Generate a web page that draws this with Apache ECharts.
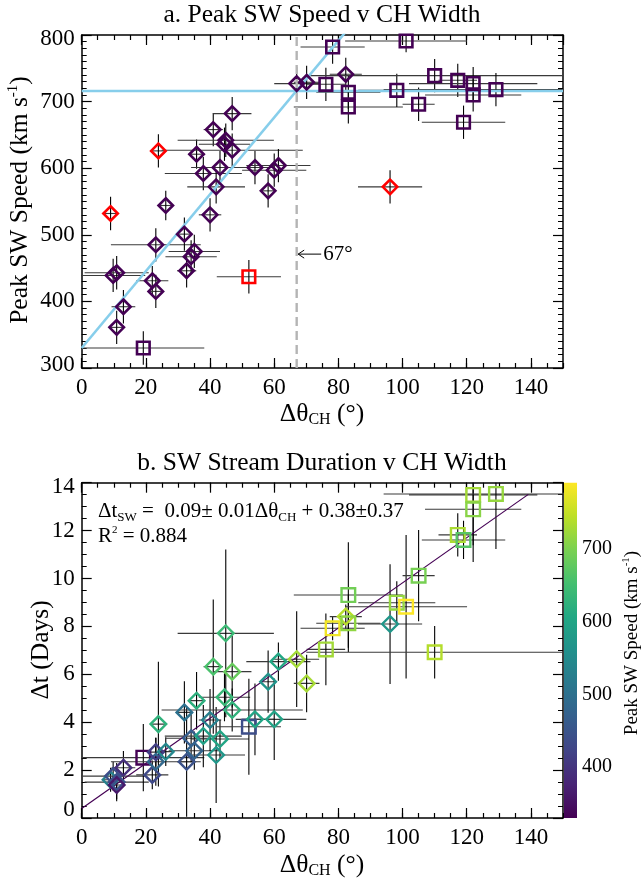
<!DOCTYPE html>
<html><head><meta charset="utf-8">
<script src="https://cdn.jsdelivr.net/npm/echarts@6/dist/echarts.min.js"></script>
<style>html,body{margin:0;padding:0;background:#fff}#c{width:643px;height:886px}</style>
</head><body><div id="c"></div>
<script>
// ---------------- data ----------------
const chWidth    = [9.0, 9.8, 10.9, 10.9, 13.0, 19.2, 22.0, 23.1, 23.1, 23.9, 26.2, 32.0, 32.7, 34.1, 35.1, 35.8, 37.9, 40.0, 41.0, 41.9, 43.1, 44.5, 44.9, 46.9, 46.9, 52.1, 54.0, 58.1, 60.0, 61.3, 67.0, 70.1, 76.1, 78.2, 82.3, 83.1, 83.1, 96.1, 98.2, 101.1, 105.0, 110.0, 117.2, 119.0, 122.0, 122.0, 129.1];
const chWidthErr = [2.5, 10, 10, 2, 3.7, 19, 5, 14, 2, 2.5, 2, 2.5, 3, 8, 8, 2.5, 12, 3.5, 3, 9, 9, 8, 15, 6, 22, 10, 6, 2.5, 10, 10, 7, 4, 6, 10, 5, 10, 17, 10, 12, 19, 5, 40, 6, 13, 20, 15, 35];
const peakSpeed  = [532, 439, 443, 361, 392, 330, 431, 485, 415, 626, 544, 501, 446, 467, 475, 621, 592, 530, 658, 572, 601, 636, 642, 682, 627, 437, 601, 566, 597, 604, 727, 729, 726, 782, 741, 714, 692, 572, 717, 791, 696, 739, 732, 669, 727, 710, 718];
const peakSpeedErr = [25, 25, 25, 25, 25, 25, 22, 25, 25, 25, 22, 25, 25, 25, 25, 22, 25, 25, 25, 25, 25, 25, 25, 25, 25, 25, 25, 25, 25, 25, 25, 25, 25, 25, 25, 25, 25, 25, 25, 17, 25, 25, 25, 25, 25, 25, 25];
const duration   = [1.6, 1.75, 1.5, 1.38, 2.10, 2.52, 1.80, 2.35, 2.75, 3.92, 2.77, 4.41, 2.35, 3.33, 2.81, 4.90, 3.42, 4.09, 6.32, 2.63, 3.30, 5.04, 7.71, 6.11, 4.51, 3.81, 4.12, 5.69, 4.12, 6.53, 6.63, 5.62, 7.04, 7.92, 8.41, 8.13, 9.31, 8.10, 8.99, 8.82, 10.12, 6.92, 11.82, 11.61, 13.49, 12.89, 13.53];
const durationErr = [0.5, 0.6, 0.8, 0.6, 0.7, 1.4, 0.6, 1.0, 0.6, 2.6, 0.6, 1.3, 2.3, 1.0, 0.8, 1.2, 1.3, 1.3, 2.8, 2.0, 0.8, 1.0, 3.5, 1.5, 0.9, 2.0, 1.5, 1.3, 1.7, 0.8, 2.0, 1.2, 1.5, 0.5, 0.5, 1.2, 2.2, 2.5, 0.9, 3.0, 1.9, 1.1, 0.9, 0.8, 2.8, 1.5, 2.3];
const markerShape = ['d','d','d','d','d','s','d','d','d','d','d','d','d','d','d','d','d','d','d','d','d','d','d','d','d','s','d','d','d','d','d','d','s','s','d','s','s','d','s','s','s','s','s','s','s','s','s'];
const outlier    = [1,0,0,0,0,0,0,0,0,1,0,0,0,0,0,0,0,0,0,0,0,0,0,0,0,1,0,0,0,0,0,0,0,0,0,0,0,1,0,0,0,0,0,0,0,0,0];
// fitted lines
const speedFit = { intercept: 330, slope: 5.77 };
const plateauSpeed = 716;
const breakWidth = 67;
const durationFit = { intercept: 0.40, slope: 0.0942, xEnd: 139.2 };
// axes
const xRange = [0, 150], speedRange = [300, 800], durRange = [0, 14];
const colorbarTicks = [400, 500, 600, 700];

// ---------------- style helpers ----------------
const F = "'Liberation Serif','Times New Roman',serif";
const viridisStops = ['#440154','#482475','#414487','#355f8d','#2a788e','#21918c','#22a884','#44bf70','#7ad151','#bddf26','#fde725'];
function hex2rgb(h){return [parseInt(h.slice(1,3),16),parseInt(h.slice(3,5),16),parseInt(h.slice(5,7),16)];}
function viridis(t){
  t=Math.max(0,Math.min(1,t)); const n=viridisStops.length-1;
  const i=Math.min(n-1,Math.floor(t*n)); const f=t*n-i;
  const a=hex2rgb(viridisStops[i]), b=hex2rgb(viridisStops[i+1]);
  return 'rgb('+a.map((v,k)=>Math.round(v+(b[k]-v)*f)).join(',')+')';
}
const cbMin = Math.min(...peakSpeed), cbMax = Math.max(...peakSpeed);

// layout
const L = 81.7, W = 481.3;
const aTop = 35, aH = 333;
const bTop = 482.7, bH = 335.3;
const cbLeft = 564, cbW = 13;
// colour-bar grid spans 300..800 so that cbMin..cbMax fills the bar
const cbPx = bH / (cbMax - cbMin);
const cbGridTop = bTop - (speedRange[1] - cbMax) * cbPx;
const cbGridH = (speedRange[1] - speedRange[0]) * cbPx;

function xAxisDef(grid, pos, major, labels){
  return {
    type:'value', gridIndex:grid, position:pos, min:xRange[0], max:xRange[1],
    interval: major ? 20 : 5,
    axisLine:{show:major, onZero:false, lineStyle:{color:'#000', width:1.5}},
    axisTick:{show:true, inside:true, length: major ? 10 : 5, lineStyle:{color:'#000', width:1.2}},
    axisLabel:{show:labels, margin:8, fontFamily:F, fontSize:23, color:'#000', showMaxLabel:false,
      formatter: v => (v % 20 === 0 && v <= 140) ? String(v) : ''},
    splitLine:{show:false}
  };
}
function yAxisDef(grid, pos, range, interval, minorSplit, labels, richTop, richBot){
  return {
    type:'value', gridIndex:grid, position:pos, min:range[0], max:range[1], interval:interval,
    axisLine:{show:true, onZero:false, lineStyle:{color:'#000', width:1.5}},
    axisTick:{show:true, inside:true, length:10, lineStyle:{color:'#000', width:1.2}},
    minorTick:{show:true, splitNumber:minorSplit, length:5, lineStyle:{color:'#000', width:1}},
    axisLabel:{show:labels, margin:7, fontFamily:F, fontSize:23, color:'#000',
      formatter: v => v === range[1] ? '{t|'+v+'}' : (v === range[0] ? '{b|'+v+'}' : '{n|'+v+'}'),
      rich:{
        n:{fontFamily:F, fontSize:23, color:'#000'},
        t:{fontFamily:F, fontSize:23, color:'#000', padding:[richTop,0,0,0]},
        b:{fontFamily:F, fontSize:23, color:'#000', padding:[0,0,richBot,0]}
      }},
    splitLine:{show:false}
  };
}

function errorBars(xi, yi, yVals, yErrs){
  return {
    type:'custom', xAxisIndex:xi, yAxisIndex:yi, clip:true, z:3, silent:true,
    data: chWidth.map((w,i)=>[w, yVals[i], chWidthErr[i], yErrs[i]]),
    encode:{x:0, y:1},
    renderItem(params, api){
      const x=api.value(0), y=api.value(1), xe=api.value(2), ye=api.value(3);
      const l=api.coord([x-xe,y]), r=api.coord([x+xe,y]);
      const t=api.coord([x,y+ye]), b=api.coord([x,y-ye]);
      return {type:'group', children:[
        {type:'line', shape:{x1:l[0],y1:l[1],x2:r[0],y2:r[1]}, style:{stroke:'#3a3a3a', lineWidth:1.1}},
        {type:'line', shape:{x1:t[0],y1:t[1],x2:b[0],y2:b[1]}, style:{stroke:'#000', lineWidth:1.1}}
      ]};
    }
  };
}
function markers(xi, yi, yVals, colorFn, half, lw){
  return {
    type:'custom', xAxisIndex:xi, yAxisIndex:yi, clip:false, z:5, silent:true,
    data: chWidth.map((w,i)=>[w, yVals[i]]),
    encode:{x:0, y:1},
    renderItem(params, api){
      const i=params.dataIndex; const p=api.coord([api.value(0), api.value(1)]);
      const st={fill:'none', stroke:colorFn(i), lineWidth:lw};
      if (markerShape[i]==='s') return {type:'rect', shape:{x:p[0]-half, y:p[1]-half, width:2*half, height:2*half}, style:st};
      const d=half*1.15;
      return {type:'polygon', shape:{points:[[p[0],p[1]-d],[p[0]+d,p[1]],[p[0],p[1]+d],[p[0]-d,p[1]]]}, style:st};
    }
  };
}

const subRich = (fs) => ({
  n:{fontFamily:F, fontSize:fs, lineHeight:fs+3, color:'#000'},
  s:{fontFamily:F, fontSize:Math.round(fs*0.63), lineHeight:Math.round(fs*0.63), verticalAlign:'bottom', color:'#000'},
  p:{fontFamily:F, fontSize:Math.round(fs*0.6), lineHeight:Math.round(fs*0.6), verticalAlign:'top', color:'#000'},
  q:{fontFamily:F, fontSize:Math.round(fs*0.5), lineHeight:Math.round(fs*0.5), verticalAlign:'top', color:'#000'}
});
function txt(x, y, text, fs, opts){
  return Object.assign({type:'text', x:x, y:y, silent:true, z:20,
    style:{text:text, rich:subRich(fs), fontFamily:F, fontSize:fs, fill:'#000',
      align:(opts&&opts.align)||'center', verticalAlign:'middle',
      textAlign:(opts&&opts.align)||'center', textVerticalAlign:'middle'}}, opts && opts.rotation!==undefined ? {rotation:opts.rotation} : {});
}

const chart = echarts.init(document.getElementById('c'));
const option = {
  animation:false, backgroundColor:'#fff',
  textStyle:{fontFamily:F},
  grid:[
    {left:L, top:aTop, width:W, height:aH},
    {left:L, top:bTop, width:W, height:bH},
    {left:cbLeft, top:cbGridTop, width:cbW, height:cbGridH}
  ],
  xAxis:[
    xAxisDef(0,'bottom',true,true), xAxisDef(0,'bottom',false,false),
    xAxisDef(0,'top',true,false), xAxisDef(0,'top',false,false),
    xAxisDef(1,'bottom',true,true), xAxisDef(1,'bottom',false,false),
    xAxisDef(1,'top',true,false), xAxisDef(1,'top',false,false),
    {type:'value', gridIndex:2, min:0, max:1, show:false}
  ],
  yAxis:[
    yAxisDef(0,'left',speedRange,100,10,true,7,6),
    yAxisDef(0,'right',speedRange,100,10,false,0,0),
    yAxisDef(1,'left',durRange,2,4,true,8,16),
    yAxisDef(1,'right',durRange,2,4,false,0,0),
    {type:'value', gridIndex:2, position:'right', min:speedRange[0], max:speedRange[1], interval:100,
      axisLine:{show:false}, axisTick:{show:false}, splitLine:{show:false},
      axisLabel:{show:true, margin:5, fontFamily:F, fontSize:20, color:'#000',
        formatter: v => colorbarTicks.indexOf(v) >= 0 ? String(v) : ''}}
  ],
  series:[
    // panel a
    {type:'line', xAxisIndex:0, yAxisIndex:0, data:[[xRange[0],plateauSpeed],[xRange[1],plateauSpeed]], symbol:'none', clip:true, z:4,
      lineStyle:{color:'#87ceeb', width:2.6}},
    {type:'line', xAxisIndex:0, yAxisIndex:0, data:[[xRange[0],speedFit.intercept],[xRange[1],speedFit.intercept+speedFit.slope*xRange[1]]], symbol:'none', clip:true, z:4,
      lineStyle:{color:'#87ceeb', width:2.6}},
    {type:'line', xAxisIndex:0, yAxisIndex:0, data:[[breakWidth,speedRange[0]],[breakWidth,speedRange[1]]], symbol:'none', clip:true, z:4,
      lineStyle:{color:'#b4b4b4', width:2.4, type:[9,5]}},
    errorBars(0,0,peakSpeed,peakSpeedErr),
    markers(0,0,peakSpeed, i => outlier[i] ? '#ff0000' : '#440154', 6.3, 2.6),
    // panel b
    {type:'line', xAxisIndex:4, yAxisIndex:2, data:[[0,durationFit.intercept],[durationFit.xEnd,durationFit.intercept+durationFit.slope*durationFit.xEnd]], symbol:'none', clip:true, z:4,
      lineStyle:{color:'#440154', width:1.2}},
    errorBars(4,2,duration,durationErr),
    markers(4,2,duration, i => viridis((peakSpeed[i]-cbMin)/(cbMax-cbMin)), 6.8, 2.4),
    // colour bar
    {type:'custom', xAxisIndex:8, yAxisIndex:4, silent:true, data:[[0, cbMin, cbMax]],
      renderItem(params, api){
        const p0=api.coord([0, api.value(1)]), p1=api.coord([1, api.value(2)]);
        const stops=viridisStops.map((c,k)=>({offset:k/(viridisStops.length-1), color:c}));
        return {type:'rect', shape:{x:p0[0], y:p1[1], width:p1[0]-p0[0], height:p0[1]-p1[1]},
          style:{fill:new echarts.graphic.LinearGradient(0,1,0,0,stops), stroke:'none'}};
      }}
  ]
};
chart.setOption(option);

// annotations
const arrowPt = chart.convertToPixel({gridIndex:0}, [breakWidth, 471]);
const ax = arrowPt[0] + 1.5, ay = arrowPt[1];
chart.setOption({graphic:[
  txt(322, 15, 'a. Peak SW Speed v CH Width', 25.5),
  txt(322, 463, 'b. SW Stream Duration v CH Width', 25.5),
  txt(20, 200, '{n|Peak SW Speed (km s}{p|-1}{n|)}', 25.5, {rotation:Math.PI/2}),
  txt(41, 650, '{n|Δt (Days)}', 25.5, {rotation:Math.PI/2}),
  txt(322, 414, '{n|Δθ}{s|CH}{n| (°)}', 25.5),
  txt(322, 865, '{n|Δθ}{s|CH}{n| (°)}', 25.5),
  txt(632, 643, '{n|Peak SW Speed (km s}{p|-1}{n|)}', 19, {rotation:Math.PI/2}),
  txt(98, 511.7, '{n|Δt}{s|SW}{n| =  0.09± 0.01Δθ}{s|CH}{n| + 0.38±0.37}', 21, {align:'left'}),
  txt(98, 536.7, '{n|R}{q|2}{n| = 0.884}', 21, {align:'left'}),
  {type:'line', silent:true, z:20, shape:{x1:ax, y1:ay, x2:ax+23, y2:ay}, style:{stroke:'#000', lineWidth:1}},
  {type:'polyline', silent:true, z:20, shape:{points:[[ax+6,ay-4],[ax,ay],[ax+6,ay+4]]}, style:{stroke:'#000', lineWidth:1, fill:'none'}},
  txt(ax+25, ay, '{n|67°}', 21, {align:'left'})
]});
</script></body></html>
